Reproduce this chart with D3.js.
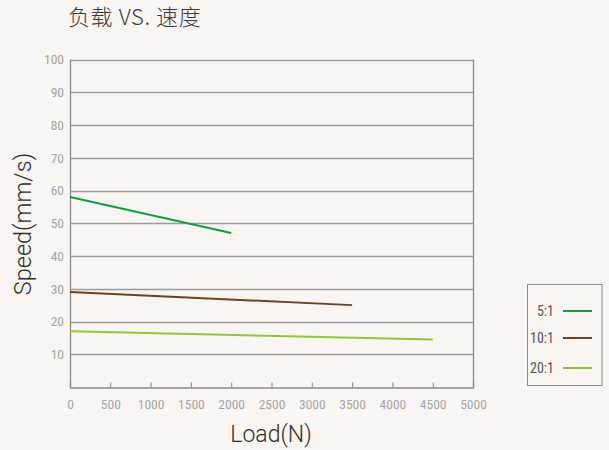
<!DOCTYPE html>
<html><head><meta charset="utf-8">
<script src="https://cdn.jsdelivr.net/npm/d3@7"></script>
<style>body{margin:0;background:#f8f5f2;}svg{display:block;}</style>
</head><body>
<svg id="c" width="609" height="450"></svg>
<script>
const seriesNames = ["5:1", "10:1", "20:1"];
const seriesColors = ["#17994a", "#6b4424", "#8dc63f"];
const loads51 = [0, 2000];
const speeds51 = [58, 47];
const loads101 = [0, 3500];
const speeds101 = [29, 25];
const loads201 = [0, 4500];
const speeds201 = [17, 14.5];
const xTicks = [0, 500, 1000, 1500, 2000, 2500, 3000, 3500, 4000, 4500, 5000];
const yTicks = [10, 20, 30, 40, 50, 60, 70, 80, 90, 100];

const series = [
  {name: seriesNames[0], color: seriesColors[0], pts: loads51.map((x,i)=>[x, speeds51[i]])},
  {name: seriesNames[1], color: seriesColors[1], pts: loads101.map((x,i)=>[x, speeds101[i]])},
  {name: seriesNames[2], color: seriesColors[2], pts: loads201.map((x,i)=>[x, speeds201[i]])}
];

const svg = d3.select("#c");
svg.append("rect").attr("width",609).attr("height",450).attr("fill","#f8f5f2");
const L=70, R=473, T=59.5, B=387;
const x = d3.scaleLinear().domain([0,5000]).range([L,R]);
const y = d3.scaleLinear().domain([0,100]).range([B,T]);
const tickFont = "'Liberation Sans Narrow','Roboto Condensed','DejaVu Sans Condensed',sans-serif";

// gridlines
svg.append("g").selectAll("line").data(yTicks).join("line")
  .attr("x1",L).attr("x2",R).attr("y1",d=>Math.round(y(d))+0.5).attr("y2",d=>Math.round(y(d))+0.5)
  .attr("stroke","#9c9c9c").attr("stroke-width",1.3);
// border left/right
svg.append("line").attr("x1",L+0.5).attr("x2",L+0.5).attr("y1",T).attr("y2",B).attr("stroke","#8c8c8c").attr("stroke-width",1.3);
svg.append("line").attr("x1",R+0.5).attr("x2",R+0.5).attr("y1",T).attr("y2",B).attr("stroke","#8c8c8c").attr("stroke-width",1.3);

// x axis
const xAxis = d3.axisBottom(x).tickValues(xTicks).tickSize(-5).tickPadding(12).tickFormat(d3.format("d"));
const gx = svg.append("g").attr("transform",`translate(0,${B+0.5})`).call(xAxis);
gx.select(".domain").attr("stroke","#8c8c8c").attr("stroke-width",1.3);
gx.selectAll(".tick line").attr("stroke","#8c8c8c");
gx.selectAll(".tick text").attr("fill","#a6a6a6").attr("font-size",13.5).attr("font-family",tickFont);

// y axis labels
const yAxis = d3.axisLeft(y).tickValues(yTicks).tickSize(0).tickPadding(6);
const gy = svg.append("g").attr("transform",`translate(${L},0)`).call(yAxis);
gy.select(".domain").remove();
gy.selectAll(".tick text").attr("fill","#a6a6a6").attr("font-size",13.5).attr("font-family",tickFont);

// lines
const line = d3.line().x(d=>x(d[0])).y(d=>y(d[1]));
svg.append("g").selectAll("path").data(series).join("path")
  .attr("d",d=>line(d.pts)).attr("fill","none").attr("stroke",d=>d.color).attr("stroke-width",2);

// title
svg.append("text").attr("x",68).attr("y",25).attr("font-size",22).attr("letter-spacing",0.6).attr("fill","#3a3a3a")
  .attr("font-family","'Noto Sans CJK SC','Noto Sans',sans-serif").attr("font-weight",300).text("负载 VS. 速度");
// axis titles
svg.append("text").attr("x",271).attr("y",442).attr("text-anchor","middle").attr("font-size",23).attr("fill","#2f2f2f")
  .attr("font-family","Roboto,'Noto Sans',sans-serif").attr("font-weight",300).text("Load(N)");
svg.append("text").attr("transform","translate(31,224) rotate(-90)").attr("text-anchor","middle").attr("font-size",23.5).attr("fill","#2f2f2f")
  .attr("font-family","Roboto,'Noto Sans',sans-serif").attr("font-weight",300).text("Speed(mm/s)");

// legend
svg.append("rect").attr("x",527.5).attr("y",284.5).attr("width",74.5).attr("height",101).attr("fill","none").attr("stroke","#8c8c8c").attr("stroke-width",1);
const legY = [311, 338, 368];
const lg = svg.append("g").selectAll("g").data(series).join("g");
lg.append("text").attr("x",554).attr("y",(d,i)=>legY[i]+5).attr("text-anchor","end").attr("font-size",14).attr("fill","#555")
  .attr("font-family",tickFont).text(d=>d.name);
lg.append("line").attr("x1",563).attr("x2",592).attr("y1",(d,i)=>legY[i]).attr("y2",(d,i)=>legY[i]).attr("stroke",d=>d.color).attr("stroke-width",2);
</script>
</body></html>
